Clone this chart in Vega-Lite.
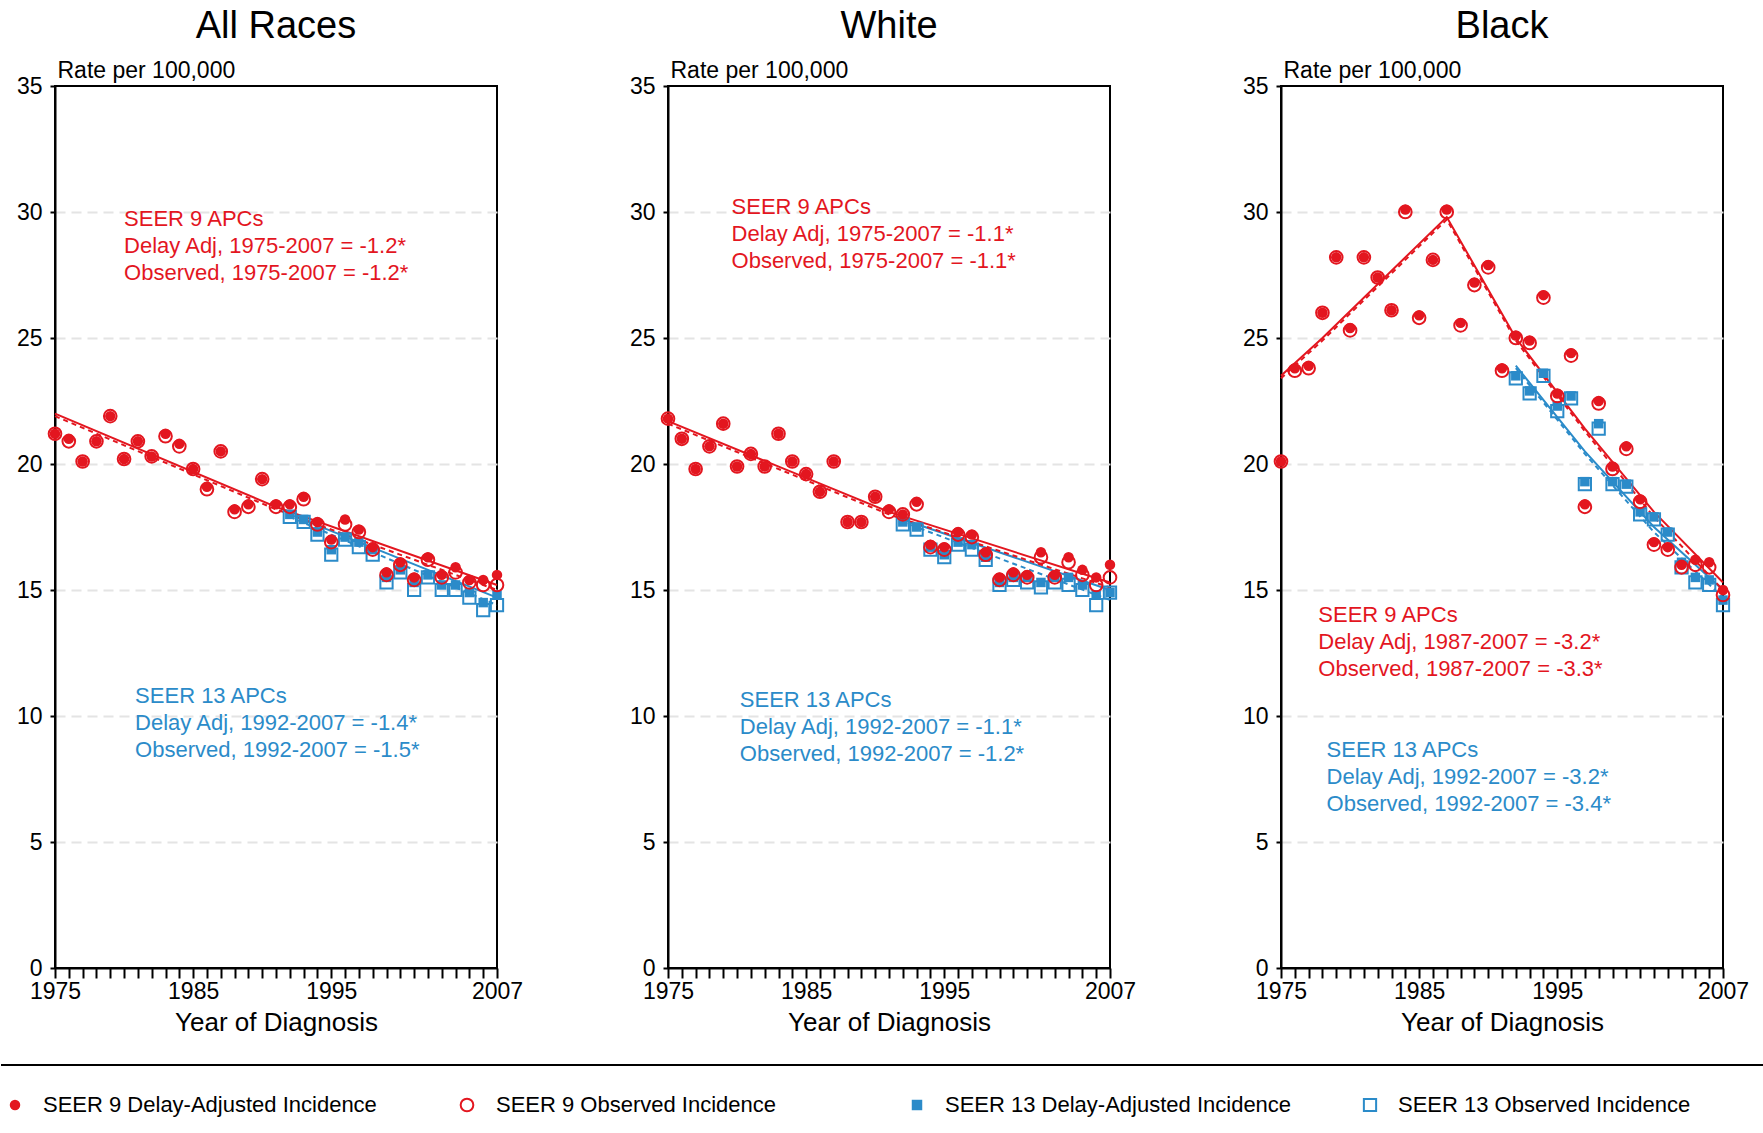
{
  "$schema": "https://vega.github.io/schema/vega-lite/v6.json",
  "padding": {"left": 0, "top": 8, "right": 0, "bottom": 0},
  "config": {"font": "Liberation Sans", "view": {"stroke": "black", "strokeWidth": 2}},
  "spacing": 28,
  "vconcat": [
    {
      "data": {"values": [
        {"r":"All Races","k":"p","yr":1975,"d9":21.2,"o9":21.2},{"r":"All Races","k":"p","yr":1976,"d9":21.0,"o9":20.9},
        {"r":"All Races","k":"p","yr":1977,"d9":20.1,"o9":20.1},{"r":"All Races","k":"p","yr":1978,"d9":20.9,"o9":20.9},
        {"r":"All Races","k":"p","yr":1979,"d9":21.9,"o9":21.9},{"r":"All Races","k":"p","yr":1980,"d9":20.2,"o9":20.2},
        {"r":"All Races","k":"p","yr":1981,"d9":20.9,"o9":20.9},{"r":"All Races","k":"p","yr":1982,"d9":20.3,"o9":20.3},
        {"r":"All Races","k":"p","yr":1983,"d9":21.2,"o9":21.1},{"r":"All Races","k":"p","yr":1984,"d9":20.8,"o9":20.7},
        {"r":"All Races","k":"p","yr":1985,"d9":19.8,"o9":19.8},{"r":"All Races","k":"p","yr":1986,"d9":19.1,"o9":19.0},
        {"r":"All Races","k":"p","yr":1987,"d9":20.5,"o9":20.5},{"r":"All Races","k":"p","yr":1988,"d9":18.2,"o9":18.1},
        {"r":"All Races","k":"p","yr":1989,"d9":18.4,"o9":18.3},{"r":"All Races","k":"p","yr":1990,"d9":19.4,"o9":19.4},
        {"r":"All Races","k":"p","yr":1991,"d9":18.4,"o9":18.3},
        {"r":"All Races","k":"p","yr":1992,"d9":18.4,"o9":18.3,"d13":18.0,"o13":17.9},
        {"r":"All Races","k":"p","yr":1993,"d9":18.7,"o9":18.6,"d13":17.8,"o13":17.7},
        {"r":"All Races","k":"p","yr":1994,"d9":17.7,"o9":17.6,"d13":17.3,"o13":17.2},
        {"r":"All Races","k":"p","yr":1995,"d9":17.0,"o9":16.9,"d13":16.6,"o13":16.4},
        {"r":"All Races","k":"p","yr":1996,"d9":17.8,"o9":17.6,"d13":17.1,"o13":17.0},
        {"r":"All Races","k":"p","yr":1997,"d9":17.4,"o9":17.3,"d13":16.9,"o13":16.7},
        {"r":"All Races","k":"p","yr":1998,"d9":16.7,"o9":16.6,"d13":16.6,"o13":16.4},
        {"r":"All Races","k":"p","yr":1999,"d9":15.7,"o9":15.6,"d13":15.5,"o13":15.3},
        {"r":"All Races","k":"p","yr":2000,"d9":16.1,"o9":16.0,"d13":15.8,"o13":15.7},
        {"r":"All Races","k":"p","yr":2001,"d9":15.5,"o9":15.4,"d13":15.3,"o13":15.0},
        {"r":"All Races","k":"p","yr":2002,"d9":16.3,"o9":16.2,"d13":15.6,"o13":15.5},
        {"r":"All Races","k":"p","yr":2003,"d9":15.6,"o9":15.5,"d13":15.2,"o13":15.0},
        {"r":"All Races","k":"p","yr":2004,"d9":15.9,"o9":15.7,"d13":15.2,"o13":15.0},
        {"r":"All Races","k":"p","yr":2005,"d9":15.4,"o9":15.3,"d13":14.9,"o13":14.7},
        {"r":"All Races","k":"p","yr":2006,"d9":15.4,"o9":15.2,"d13":14.5,"o13":14.2},
        {"r":"All Races","k":"p","yr":2007,"d9":15.6,"o9":15.2,"d13":14.8,"o13":14.4},
        {"r":"White","k":"p","yr":1975,"d9":21.8,"o9":21.8},{"r":"White","k":"p","yr":1976,"d9":21.0,"o9":21.0},
        {"r":"White","k":"p","yr":1977,"d9":19.8,"o9":19.8},{"r":"White","k":"p","yr":1978,"d9":20.7,"o9":20.7},
        {"r":"White","k":"p","yr":1979,"d9":21.6,"o9":21.6},{"r":"White","k":"p","yr":1980,"d9":19.9,"o9":19.9},
        {"r":"White","k":"p","yr":1981,"d9":20.4,"o9":20.4},{"r":"White","k":"p","yr":1982,"d9":19.9,"o9":19.9},
        {"r":"White","k":"p","yr":1983,"d9":21.2,"o9":21.2},{"r":"White","k":"p","yr":1984,"d9":20.1,"o9":20.1},
        {"r":"White","k":"p","yr":1985,"d9":19.6,"o9":19.6},{"r":"White","k":"p","yr":1986,"d9":18.9,"o9":18.9},
        {"r":"White","k":"p","yr":1987,"d9":20.1,"o9":20.1},{"r":"White","k":"p","yr":1988,"d9":17.7,"o9":17.7},
        {"r":"White","k":"p","yr":1989,"d9":17.7,"o9":17.7},{"r":"White","k":"p","yr":1990,"d9":18.7,"o9":18.7},
        {"r":"White","k":"p","yr":1991,"d9":18.2,"o9":18.1},
        {"r":"White","k":"p","yr":1992,"d9":18.0,"o9":18.0,"d13":17.7,"o13":17.6},
        {"r":"White","k":"p","yr":1993,"d9":18.5,"o9":18.4,"d13":17.5,"o13":17.4},
        {"r":"White","k":"p","yr":1994,"d9":16.8,"o9":16.7,"d13":16.7,"o13":16.6},
        {"r":"White","k":"p","yr":1995,"d9":16.7,"o9":16.6,"d13":16.4,"o13":16.3},
        {"r":"White","k":"p","yr":1996,"d9":17.3,"o9":17.2,"d13":16.9,"o13":16.8},
        {"r":"White","k":"p","yr":1997,"d9":17.2,"o9":17.1,"d13":16.8,"o13":16.6},
        {"r":"White","k":"p","yr":1998,"d9":16.5,"o9":16.4,"d13":16.3,"o13":16.2},
        {"r":"White","k":"p","yr":1999,"d9":15.5,"o9":15.4,"d13":15.3,"o13":15.2},
        {"r":"White","k":"p","yr":2000,"d9":15.7,"o9":15.6,"d13":15.5,"o13":15.4},
        {"r":"White","k":"p","yr":2001,"d9":15.6,"o9":15.5,"d13":15.5,"o13":15.3},
        {"r":"White","k":"p","yr":2002,"d9":16.5,"o9":16.3,"d13":15.3,"o13":15.1},
        {"r":"White","k":"p","yr":2003,"d9":15.6,"o9":15.5,"d13":15.5,"o13":15.3},
        {"r":"White","k":"p","yr":2004,"d9":16.3,"o9":16.1,"d13":15.5,"o13":15.2},
        {"r":"White","k":"p","yr":2005,"d9":15.8,"o9":15.6,"d13":15.2,"o13":15.0},
        {"r":"White","k":"p","yr":2006,"d9":15.5,"o9":15.2,"d13":14.8,"o13":14.4},
        {"r":"White","k":"p","yr":2007,"d9":16.0,"o9":15.5,"d13":14.9,"o13":14.9},
        {"r":"Black","k":"p","yr":1975,"d9":20.1,"o9":20.1},{"r":"Black","k":"p","yr":1976,"d9":23.8,"o9":23.7},
        {"r":"Black","k":"p","yr":1977,"d9":23.9,"o9":23.8},{"r":"Black","k":"p","yr":1978,"d9":26.0,"o9":26.0},
        {"r":"Black","k":"p","yr":1979,"d9":28.2,"o9":28.2},{"r":"Black","k":"p","yr":1980,"d9":25.4,"o9":25.3},
        {"r":"Black","k":"p","yr":1981,"d9":28.2,"o9":28.2},{"r":"Black","k":"p","yr":1982,"d9":27.4,"o9":27.4},
        {"r":"Black","k":"p","yr":1983,"d9":26.1,"o9":26.1},{"r":"Black","k":"p","yr":1984,"d9":30.1,"o9":30.0},
        {"r":"Black","k":"p","yr":1985,"d9":25.9,"o9":25.8},{"r":"Black","k":"p","yr":1986,"d9":28.1,"o9":28.1},
        {"r":"Black","k":"p","yr":1987,"d9":30.1,"o9":30.0},{"r":"Black","k":"p","yr":1988,"d9":25.6,"o9":25.5},
        {"r":"Black","k":"p","yr":1989,"d9":27.2,"o9":27.1},{"r":"Black","k":"p","yr":1990,"d9":27.9,"o9":27.8},
        {"r":"Black","k":"p","yr":1991,"d9":23.8,"o9":23.7},
        {"r":"Black","k":"p","yr":1992,"d9":25.1,"o9":25.0,"d13":23.5,"o13":23.4},
        {"r":"Black","k":"p","yr":1993,"d9":24.9,"o9":24.8,"d13":22.9,"o13":22.8},
        {"r":"Black","k":"p","yr":1994,"d9":26.7,"o9":26.6,"d13":23.6,"o13":23.5},
        {"r":"Black","k":"p","yr":1995,"d9":22.8,"o9":22.7,"d13":22.3,"o13":22.1},
        {"r":"Black","k":"p","yr":1996,"d9":24.4,"o9":24.3,"d13":22.7,"o13":22.6},
        {"r":"Black","k":"p","yr":1997,"d9":18.4,"o9":18.3,"d13":19.3,"o13":19.2},
        {"r":"Black","k":"p","yr":1998,"d9":22.5,"o9":22.4,"d13":21.6,"o13":21.4},
        {"r":"Black","k":"p","yr":1999,"d9":19.9,"o9":19.8,"d13":19.3,"o13":19.2},
        {"r":"Black","k":"p","yr":2000,"d9":20.7,"o9":20.6,"d13":19.2,"o13":19.1},
        {"r":"Black","k":"p","yr":2001,"d9":18.6,"o9":18.5,"d13":18.1,"o13":18.0},
        {"r":"Black","k":"p","yr":2002,"d9":16.9,"o9":16.8,"d13":17.9,"o13":17.8},
        {"r":"Black","k":"p","yr":2003,"d9":16.7,"o9":16.6,"d13":17.3,"o13":17.2},
        {"r":"Black","k":"p","yr":2004,"d9":16.0,"o9":15.9,"d13":16.1,"o13":15.9},
        {"r":"Black","k":"p","yr":2005,"d9":16.2,"o9":16.0,"d13":15.5,"o13":15.3},
        {"r":"Black","k":"p","yr":2006,"d9":16.1,"o9":15.9,"d13":15.4,"o13":15.2},
        {"r":"Black","k":"p","yr":2007,"d9":15.0,"o9":14.8,"d13":14.6,"o13":14.4},
        {"r":"All Races","k":"f","yr":1975,"f9d":22.0,"f9o":21.9},
        {"r":"All Races","k":"f","yr":1991,"f9d":18.3,"f9o":18.2},
        {"r":"All Races","k":"f","yr":1992,"f13d":18.0,"f13o":17.9},
        {"r":"All Races","k":"f","yr":2007,"f9d":15.2,"f9o":15.0,"f13d":14.7,"f13o":14.4},
        {"r":"White","k":"f","yr":1975,"f9d":21.7,"f9o":21.6},
        {"r":"White","k":"f","yr":1991,"f9d":18.1,"f9o":18.0},
        {"r":"White","k":"f","yr":1992,"f13d":17.8,"f13o":17.7},
        {"r":"White","k":"f","yr":2007,"f9d":15.3,"f9o":15.1,"f13d":15.0,"f13o":14.6},
        {"r":"Black","k":"f","yr":1975,"f9d":23.5,"f9o":23.4},
        {"r":"Black","k":"f","yr":1978,"f9d":25.0,"f9o":24.9},
        {"r":"Black","k":"f","yr":1987,"f9d":29.8,"f9o":29.7},
        {"r":"Black","k":"f","yr":1992,"f9d":25.0,"f9o":24.9,"f13d":23.9,"f13o":23.8},
        {"r":"Black","k":"f","yr":1997,"f9d":21.4,"f9o":21.3,"f13d":20.5,"f13o":20.4},
        {"r":"Black","k":"f","yr":2002,"f9d":18.1,"f9o":17.9,"f13d":17.5,"f13o":17.3},
        {"r":"Black","k":"f","yr":2007,"f9d":15.3,"f9o":15.0,"f13d":15.0,"f13o":14.7},
        {"r":"All Races","k":"t","g":"9","tx":1980.0,"ty":30.1,"label":"SEER 9 APCs\nDelay Adj, 1975-2007 = -1.2*\nObserved, 1975-2007 = -1.2*"},
        {"r":"All Races","k":"t","g":"13","tx":1980.8,"ty":11.2,"label":"SEER 13 APCs\nDelay Adj, 1992-2007 = -1.4*\nObserved, 1992-2007 = -1.5*"},
        {"r":"White","k":"t","g":"9","tx":1979.6,"ty":30.6,"label":"SEER 9 APCs\nDelay Adj, 1975-2007 = -1.1*\nObserved, 1975-2007 = -1.1*"},
        {"r":"White","k":"t","g":"13","tx":1980.2,"ty":11.05,"label":"SEER 13 APCs\nDelay Adj, 1992-2007 = -1.1*\nObserved, 1992-2007 = -1.2*"},
        {"r":"Black","k":"t","g":"9","tx":1977.7,"ty":14.4,"label":"SEER 9 APCs\nDelay Adj, 1987-2007 = -3.2*\nObserved, 1987-2007 = -3.3*"},
        {"r":"Black","k":"t","g":"13","tx":1978.3,"ty":9.05,"label":"SEER 13 APCs\nDelay Adj, 1992-2007 = -3.2*\nObserved, 1992-2007 = -3.4*"}
      ]},
      "facet": {"column": {"field": "r", "sort": ["All Races", "White", "Black"],
        "header": {"title": null, "labelFontSize": 38, "labelPadding": 12, "labelFont": "Liberation Sans"}}},
      "spacing": 104,
      "resolve": {"axis": {"y": "independent", "x": "independent"}},
      "spec": {
        "width": 442,
        "height": 882,
        "encoding": {
          "x": {"field": "yr", "type": "quantitative", "scale": {"domain": [1975, 2007], "nice": false, "zero": false},
            "axis": {"title": "Year of Diagnosis", "titleFontSize": 26, "titleFontWeight": "normal", "titlePadding": 6,
              "values": [1975,1976,1977,1978,1979,1980,1981,1982,1983,1984,1985,1986,1987,1988,1989,1990,1991,1992,1993,1994,1995,1996,1997,1998,1999,2000,2001,2002,2003,2004,2005,2006,2007],
              "labelExpr": "indexof([1975,1985,1995,2007], datum.value) >= 0 ? datum.value : ''",
              "format": "d", "labelFontSize": 23, "labelColor": "black", "tickColor": "black", "tickWidth": 2, "tickSize": 10,
              "domainColor": "black", "domainWidth": 2, "grid": false, "labelOverlap": false, "labelFlush": false}}
        },
        "layer": [
          {"transform": [{"filter": "datum.k == 'f' && isValid(datum.f13o)"}], "mark": {"type": "line", "color": "#2b8bc9", "strokeWidth": 2, "strokeDash": [5, 4]},
            "encoding": {"y": {"field": "f13o", "type": "quantitative", "scale": {"domain": [0, 35]},
              "axis": {"title": "Rate per 100,000", "titleAngle": 0, "titleAlign": "left", "titleAnchor": "end", "titleX": 2, "titleY": -4, "titleFontSize": 23, "titleFontWeight": "normal",
                "values": [0,5,10,15,20,25,30,35], "labelFontSize": 23, "labelPadding": 8, "labelColor": "black", "tickColor": "black", "tickWidth": 2, "domainColor": "black", "domainWidth": 2,
                "gridDash": [10, 6], "gridColor": {"condition": {"test": "datum.value == 35 || datum.value == 0", "value": "transparent"}, "value": "#e4e4e4"}, "gridWidth": 2}}}},
          {"transform": [{"filter": "datum.k == 'f' && isValid(datum.f13d)"}], "mark": {"type": "line", "color": "#2b8bc9", "strokeWidth": 2},
            "encoding": {"y": {"field": "f13d", "type": "quantitative"}}},
          {"transform": [{"filter": "datum.k == 'f' && isValid(datum.f9o)"}], "mark": {"type": "line", "color": "#e3161f", "strokeWidth": 2, "strokeDash": [5, 4]},
            "encoding": {"y": {"field": "f9o", "type": "quantitative"}}},
          {"transform": [{"filter": "datum.k == 'f' && isValid(datum.f9d)"}], "mark": {"type": "line", "color": "#e3161f", "strokeWidth": 2},
            "encoding": {"y": {"field": "f9d", "type": "quantitative"}}},
          {"transform": [{"filter": "datum.k == 'p' && isValid(datum.o13)"}], "mark": {"type": "point", "shape": "square", "color": "#2b8bc9", "filled": false, "strokeWidth": 2, "size": 150, "opacity": 1},
            "encoding": {"y": {"field": "o13", "type": "quantitative"}}},
          {"transform": [{"filter": "datum.k == 'p' && isValid(datum.d13)"}], "mark": {"type": "point", "shape": "square", "color": "#2b8bc9", "filled": true, "size": 90, "opacity": 1},
            "encoding": {"y": {"field": "d13", "type": "quantitative"}}},
          {"transform": [{"filter": "datum.k == 'p' && isValid(datum.o9)"}], "mark": {"type": "point", "shape": "circle", "color": "#e3161f", "filled": false, "strokeWidth": 2, "size": 160, "opacity": 1},
            "encoding": {"y": {"field": "o9", "type": "quantitative"}}},
          {"transform": [{"filter": "datum.k == 'p' && isValid(datum.d9)"}], "mark": {"type": "point", "shape": "circle", "color": "#e3161f", "filled": true, "size": 110, "opacity": 1},
            "encoding": {"y": {"field": "d9", "type": "quantitative"}}},
          {"transform": [{"filter": "datum.k == 't'"}], "mark": {"type": "text", "align": "left", "baseline": "top", "fontSize": 22, "lineBreak": "\n", "lineHeight": 27},
            "encoding": {"x": {"field": "tx", "type": "quantitative"}, "y": {"field": "ty", "type": "quantitative"}, "text": {"field": "label"},
              "color": {"field": "g", "type": "nominal", "scale": {"domain": ["9", "13"], "range": ["#e3161f", "#2b8bc9"]}, "legend": null}}}
        ]
      }
    },
    {
      "width": 1763,
      "height": 40,
      "view": {"stroke": null},
      "data": {"values": [
        {"lx": 14, "tx": 42, "label": "SEER 9 Delay-Adjusted Incidence", "s": "d9"},
        {"lx": 466, "tx": 495, "label": "SEER 9 Observed Incidence", "s": "o9"},
        {"lx": 916, "tx": 944, "label": "SEER 13 Delay-Adjusted Incidence", "s": "d13"},
        {"lx": 1369, "tx": 1397, "label": "SEER 13 Observed Incidence", "s": "o13"}
      ]},
      "encoding": {
        "x": {"field": "lx", "type": "quantitative", "scale": {"domain": [54, 1817]}, "axis": null},
        "y": {"datum": 0.5, "type": "quantitative", "scale": {"domain": [0, 1]}, "axis": null}
      },
      "layer": [
        {"mark": {"type": "rule", "color": "black", "strokeWidth": 2}, "encoding": {"x": {"datum": 0, "type": "quantitative"}, "x2": {"datum": 1817}, "y": {"datum": 1.5, "type": "quantitative"}}},
        {"transform": [{"filter": "datum.s == 'd9'"}], "mark": {"type": "point", "shape": "circle", "filled": true, "color": "#e3161f", "size": 110, "opacity": 1}},
        {"transform": [{"filter": "datum.s == 'o9'"}], "mark": {"type": "point", "shape": "circle", "filled": false, "strokeWidth": 2, "color": "#e3161f", "size": 160, "opacity": 1}},
        {"transform": [{"filter": "datum.s == 'd13'"}], "mark": {"type": "point", "shape": "square", "filled": true, "color": "#2b8bc9", "size": 110, "opacity": 1}},
        {"transform": [{"filter": "datum.s == 'o13'"}], "mark": {"type": "point", "shape": "square", "filled": false, "strokeWidth": 2, "color": "#2b8bc9", "size": 150, "opacity": 1}},
        {"mark": {"type": "text", "align": "left", "baseline": "middle", "fontSize": 22, "color": "black"},
          "encoding": {"x": {"field": "tx", "type": "quantitative"}, "text": {"field": "label"}}}
      ]
    }
  ]
}
